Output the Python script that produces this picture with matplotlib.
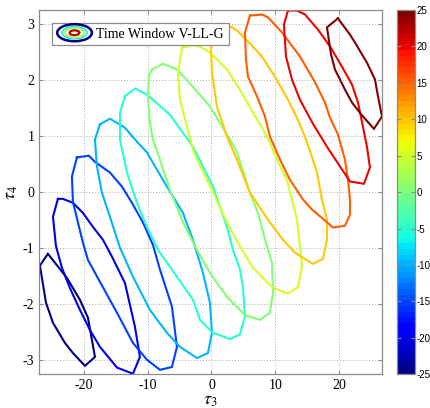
import numpy as np
import matplotlib
matplotlib.use("Agg")
import matplotlib.pyplot as plt
from matplotlib.colors import ListedColormap, Normalize
from matplotlib.cm import ScalarMappable
from matplotlib.patches import Ellipse
from matplotlib.legend_handler import HandlerBase

plt.rcParams['mathtext.fontset'] = 'stix'
plt.rcParams['font.family'] = ['Liberation Serif', 'DejaVu Serif']

# ---------------- data (tau3, tau4 vertices of each time-window contour) ----------------
levels = [-25, -20, -15, -10, -5, 0, 5, 10, 15, 20, 25]

tau3_m25 = [-26.9, -25.65, -22.67, -20.63, -19.37, -18.27, -19.84, -21.73, -22.98, -24.86, -25.96]
tau4_m25 = [-1.31, -1.10, -1.53, -1.92, -2.24, -2.94, -3.10, -2.87, -2.69, -2.33, -1.97]

tau3_m20 = [-24.08, -23.29, -21.73, -20.16, -18.59, -17.02, -15.61, -13.57, -12.0, -11.22, -12.31,
            -14.82, -17.49, -19.06, -20.63, -22.20, -23.45, -24.39, -24.86]
tau4_m20 = [-0.12, -0.12, -0.19, -0.37, -0.62, -0.85, -1.15, -1.62, -2.40, -2.94, -3.24,
            -3.13, -2.76, -2.46, -2.10, -1.71, -1.35, -0.96, -0.44]

tau3_m15 = [-21.10, -19.22, -18.27, -15.92, -14.04, -12.47, -10.75, -9.18, -8.08, -6.20, -5.41,
            -6.20, -8.08, -10.12, -12.31, -14.82, -17.49, -19.37, -20.16, -20.94, -21.73, -21.88]
tau4_m15 = [0.62, 0.65, 0.54, 0.35, 0.10, -0.19, -0.54, -0.94, -1.38, -2.04, -2.76,
            -3.12, -3.17, -2.99, -2.69, -2.15, -1.60, -1.21, -0.90, -0.54, -0.17, 0.28]

tau3_m10 = [-17.49, -15.92, -13.57, -11.53, -10.12, -8.55, -6.98, -4.47, -2.90, -1.33, -0.24, 0.08,
            -0.55, -2.27, -4.94, -6.98, -9.65, -12.31, -14.35, -15.92, -17.18, -17.96, -18.27]
tau4_m10 = [1.21, 1.31, 1.15, 0.88, 0.71, 0.40, 0.10, -0.37, -0.85, -1.44, -1.97, -2.51,
            -2.87, -2.96, -2.76, -2.51, -2.10, -1.51, -0.99, -0.44, -0.01, 0.46, 0.94]

tau3_m5 = [-13.57, -12.0, -10.12, -6.51, -2.90, 0.24, 2.43, 3.37, 4.47, 4.94, 5.25, 4.47,
           2.90, 0.24, -1.80, -2.90, -5.41, -8.39, -10.12, -11.69, -13.25, -14.35, -14.35]
tau4_m5 = [1.71, 1.85, 1.74, 1.38, 0.81, 0.10, -0.62, -1.03, -1.38, -1.69, -2.22, -2.54,
           -2.62, -2.51, -2.28, -1.92, -1.51, -1.03, -0.62, -0.19, 0.35, 0.94, 1.42]

tau3_0 = [-9.33, -7.61, -5.41, -2.90, -0.24, 1.33, 2.90, 4.0, 6.04, 7.29, 8.55, 9.49, 9.65,
          9.18, 7.61, 5.25, 2.43, -0.24, -2.27, -4.47, -6.51, -8.08, -9.18, -9.65, -9.96, -9.80]
tau4_0 = [2.19, 2.29, 2.19, 1.88, 1.53, 1.24, 0.94, 0.71, -0.01, -0.37, -0.90, -1.26, -1.79,
          -2.15, -2.28, -2.19, -1.87, -1.44, -1.03, -0.54, 0.04, 0.58, 0.94, 1.24, 1.71, 2.08]

tau3_5 = [-4.63, -2.90, -1.80, -0.24, 2.43, 4.47, 6.51, 8.08, 9.18, 10.27, 11.84, 12.63, 13.41,
          13.88, 14.20, 13.57, 12.0, 9.65, 6.51, 4.47, 2.43, 0.08, -2.27, -2.90, -3.84, -4.94, -5.25]
tau4_5 = [2.58, 2.62, 2.60, 2.49, 2.19, 1.83, 1.42, 1.12, 0.88, 0.58, 0.22, -0.13, -0.49,
          -0.97, -1.33, -1.69, -1.81, -1.71, -1.35, -0.97, -0.54, 0.04, 0.58, 0.76, 1.17, 1.65, 2.13]

tau3_10 = [0.39, 2.43, 3.84, 5.73, 7.92, 9.96, 12.0, 13.57, 14.67, 15.76, 16.55, 17.33, 18.12,
           18.12, 17.49, 15.92, 13.10, 11.22, 8.86, 6.04, 4.0, 2.43, 0.86, 0.08, -0.08]
tau4_10 = [2.85, 2.99, 2.90, 2.69, 2.42, 2.06, 1.65, 1.29, 0.99, 0.63, 0.35, -0.13, -0.49,
           -0.85, -1.19, -1.28, -1.08, -0.85, -0.49, -0.01, 0.58, 0.99, 1.53, 2.13, 2.54]

tau3_15 = [6.04, 7.92, 8.86, 11.06, 13.88, 16.24, 17.80, 18.59, 19.84, 20.94, 21.41, 21.73, 21.73,
           20.94, 19.06, 17.33, 15.76, 14.35, 12.31, 10.75, 9.18, 8.39, 7.14, 5.73, 5.41, 5.25]
tau4_15 = [3.15, 3.17, 3.12, 2.85, 2.42, 1.96, 1.60, 1.33, 1.03, 0.58, 0.22, -0.13, -0.40,
           -0.60, -0.63, -0.46, -0.31, -0.13, 0.22, 0.58, 0.99, 1.35, 1.71, 2.06, 2.37, 2.85]

tau3_20 = [12.0, 13.41, 14.67, 16.71, 18.59, 20.47, 22.04, 22.98, 23.76, 24.39, 24.86, 23.92,
           21.73, 20.16, 18.12, 15.92, 13.88, 12.63, 11.69, 11.37]
tau4_20 = [3.24, 3.24, 3.17, 2.90, 2.60, 2.24, 1.92, 1.60, 1.17, 0.81, 0.44, 0.15,
           0.19, 0.46, 0.81, 1.22, 1.65, 2.01, 2.42, 2.99]

tau3_25 = [19.84, 21.73, 22.51, 24.39, 25.65, 26.12, 26.75, 25.49, 23.61, 22.04, 20.94, 19.37, 18.75, 18.12]
tau4_25 = [3.10, 2.81, 2.67, 2.31, 2.01, 1.71, 1.35, 1.13, 1.37, 1.60, 1.83, 2.19, 2.46, 2.94]

xticks = [-20, -10, 0, 10, 20]
yticks = [-3, -2, -1, 0, 1, 2, 3]
cbar_ticks = [-25, -20, -15, -10, -5, 0, 5, 10, 15, 20, 25]
legend_label = 'Time Window V-LL-G'

contours = [(tau3_m25, tau4_m25), (tau3_m20, tau4_m20), (tau3_m15, tau4_m15),
            (tau3_m10, tau4_m10), (tau3_m5, tau4_m5), (tau3_0, tau4_0), (tau3_5, tau4_5),
            (tau3_10, tau4_10), (tau3_15, tau4_15), (tau3_20, tau4_20), (tau3_25, tau4_25)]

# ---------------- figure ----------------
cmap = ListedColormap(plt.get_cmap('jet')(np.linspace(0, 1, 64)))
norm = Normalize(vmin=-25, vmax=25)

fig = plt.figure(figsize=(4.30, 4.08), dpi=100)
ax = fig.add_axes([0.0914, 0.0826, 0.7977, 0.8929])
gray = '#8c8c8c'

for lev, (xs, ys) in zip(levels, contours):
    ax.plot(list(xs) + [xs[0]], list(ys) + [ys[0]], color=cmap(norm(lev)), lw=1.5,
            solid_joinstyle='miter')

ax.set_xlim(-27, 26.8)
ax.set_ylim(-3.25, 3.25)
ax.set_xticks(xticks)
ax.set_yticks(yticks)
ax.set_xticklabels([str(t) for t in xticks])
ax.set_yticklabels([str(t) for t in yticks])
ax.grid(True, linestyle=(0, (1, 2)), color='#b0b0b0', linewidth=0.7)
ax.tick_params(direction='in', length=3, color=gray, labelsize=10, top=True, right=True,
               labeltop=False, labelright=False)
for s in ax.spines.values():
    s.set_color(gray)
    s.set_linewidth(0.9)
ax.set_xlabel(r'$\tau_3$', fontsize=13, labelpad=0)
ax.set_ylabel(r'$\tau_4$', fontsize=13, labelpad=2)


class ContourProxy:
    pass


class ContourHandler(HandlerBase):
    def create_artists(self, legend, orig_handle, xdescent, ydescent, width, height,
                       fontsize, trans):
        cx = width / 2 - xdescent
        cy = height / 2 - ydescent
        arts = []
        spec = [(1.0, cmap(0.0), 1.8), (0.72, cmap(0.35), 1.0), (0.55, cmap(0.55), 1.4),
                (0.28, cmap(0.95), 1.6)]
        for sc, col, lw in spec:
            arts.append(Ellipse((cx, cy), width * sc, height * 1.75 * sc, fill=False,
                                edgecolor=col, lw=lw, transform=trans))
        return arts


leg = ax.legend([ContourProxy()], [legend_label], handler_map={ContourProxy: ContourHandler()},
                loc='upper left', bbox_to_anchor=(0.038, 0.965), borderaxespad=0,
                fancybox=False, edgecolor=gray, framealpha=1, fontsize=10,
                handlelength=2.5, handletextpad=0.3, borderpad=0.35)
leg.get_frame().set_linewidth(0.9)

# colorbar
cax = fig.add_axes([0.9233, 0.0826, 0.0419, 0.8929])
sm = ScalarMappable(norm=norm, cmap=cmap)
cb = fig.colorbar(sm, cax=cax, ticks=cbar_ticks)
cb.ax.set_yticklabels([str(t) for t in cbar_ticks], family=['Liberation Sans', 'DejaVu Sans'],
                      fontsize=7)
cb.ax.tick_params(direction='in', length=3, color=gray, left=True, right=True, pad=1)
cb.outline.set_edgecolor(gray)
cb.outline.set_linewidth(0.9)

fig.savefig('out.png', dpi=100, facecolor='white')
